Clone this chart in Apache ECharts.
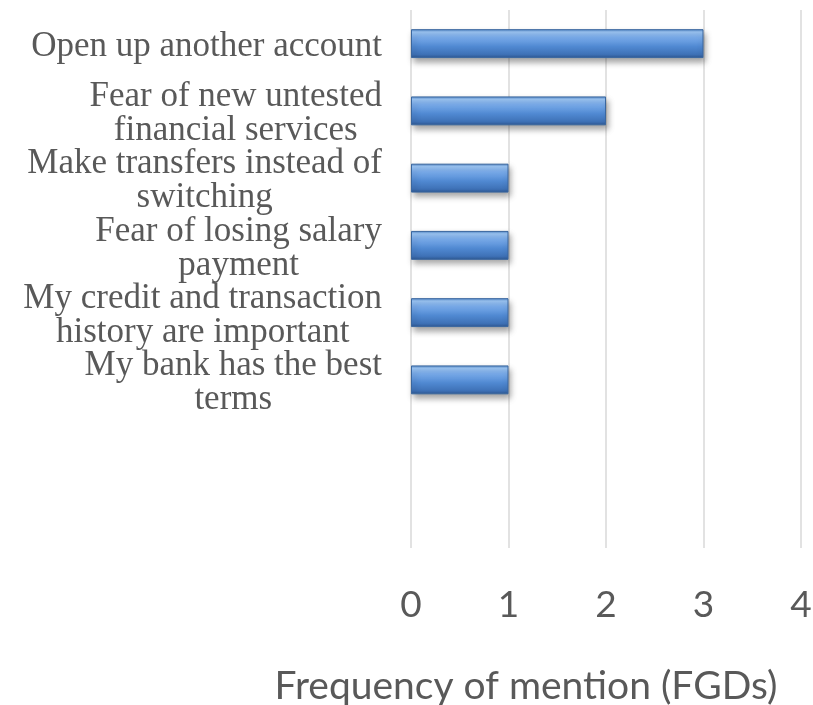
<!DOCTYPE html>
<html>
<head>
<meta charset="utf-8">
<script src="https://cdn.jsdelivr.net/npm/echarts@6/dist/echarts.min.js"></script>
<style>
  html, body { margin: 0; padding: 0; background: #ffffff; }
  #chart { width: 813px; height: 705px; }
</style>
</head>
<body>
<div id="chart"></div>
<script>
// Reasons given for not switching banks, by number of focus groups mentioning them
const categories = [
  'Open up another account',
  'Fear of new untested\nfinancial services',
  'Make transfers instead of\nswitching',
  'Fear of losing salary\npayment',
  'My credit and transaction\nhistory are important',
  'My bank has the best\nterms',
  '',
  ''
];
const mentions = [3, 2, 1, 1, 1, 1, null, null];
const xTicks = [0, 1, 2, 3, 4];
const axisTitle = 'Frequency of mention (FGDs)';

const chart = echarts.init(document.getElementById('chart'));

// Glossy bevelled fill: bright band near the top edge, darker towards the bottom
const barFill = new echarts.graphic.LinearGradient(0, 0, 0, 1, [
  { offset: 0.00, color: '#4d82c4' },
  { offset: 0.10, color: '#9cc6f5' },
  { offset: 0.28, color: '#7aaceb' },
  { offset: 0.60, color: '#5089d2' },
  { offset: 0.88, color: '#3e71b6' },
  { offset: 1.00, color: '#2d5690' }
]);

chart.setOption({
  animation: false,
  backgroundColor: '#ffffff',
  grid: {
    left: 411, right: 12, top: 10, bottom: 157,
    containLabel: false,
    outerBoundsMode: 'none'
  },
  xAxis: {
    type: 'value',
    min: xTicks[0],
    max: xTicks[xTicks.length - 1],
    interval: 1,
    axisLine: { show: false },
    axisTick: { show: false },
    splitLine: { show: true, lineStyle: { color: '#d9d9d9', width: 1.5 } },
    axisLabel: {
      margin: 37,
      fontFamily: 'Lato',
      fontSize: 37,
      lineHeight: 40,
      color: '#595959'
    },
    name: axisTitle,
    nameLocation: 'middle',
    nameGap: 118,
    nameTextStyle: {
      fontFamily: 'Lato',
      fontSize: 39,
      lineHeight: 40,
      color: '#595959',
      padding: [0, 160, 0, 0]
    }
  },
  yAxis: {
    type: 'category',
    inverse: true,
    data: categories,
    axisLine: { show: false },
    axisTick: { show: false },
    splitLine: { show: false },
    axisLabel: {
      margin: 29,
      align: 'right',
      padding: [6, 0, 0, 0],
      fontFamily: 'Liberation Serif',
      fontSize: 35,
      lineHeight: 34,
      color: '#595959',
      formatter: function (v) {
        return v ? v.split('\n').map(function (s) { return '{c|' + s + '}'; }).join('\n') : '';
      },
      rich: {
        c: {
          align: 'center',
          fontFamily: 'Liberation Serif',
          fontSize: 35,
          lineHeight: 34,
          color: '#595959'
        }
      }
    }
  },
  series: [{
    type: 'bar',
    data: mentions,
    barCategoryGap: '57%',
    itemStyle: {
      color: barFill,
      borderColor: '#3a679f',
      borderWidth: 1,
      shadowColor: 'rgba(0,0,0,0.35)',
      shadowBlur: 6,
      shadowOffsetX: 2,
      shadowOffsetY: 4
    }
  }]
});
</script>
</body>
</html>
